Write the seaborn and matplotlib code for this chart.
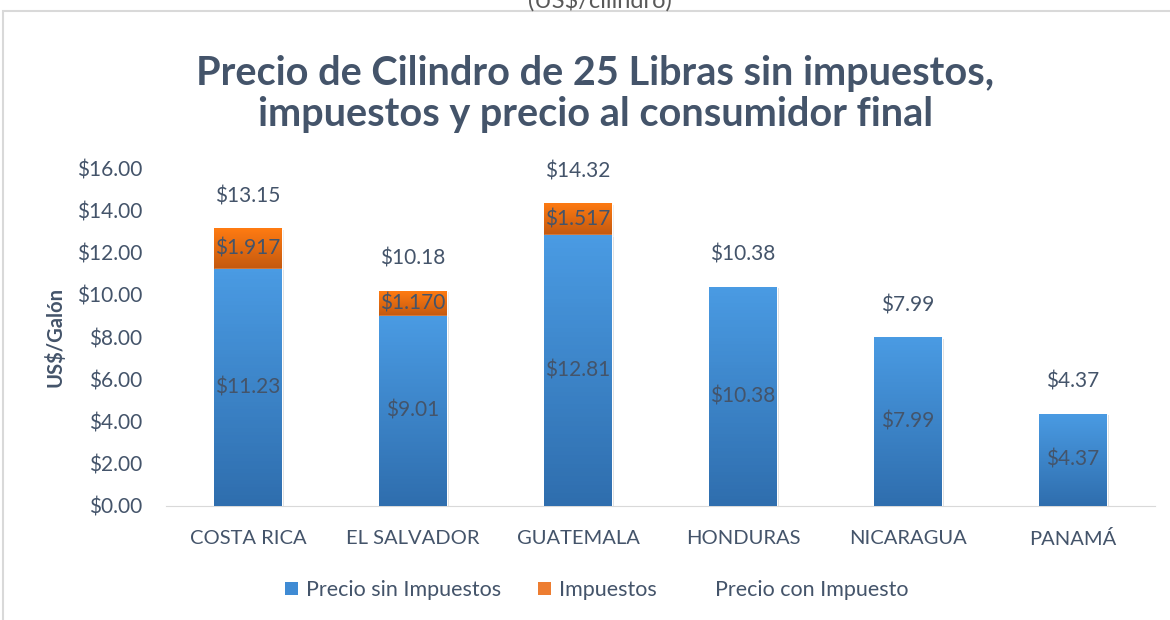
import numpy as np
import pandas as pd
import seaborn as sns
import matplotlib.pyplot as plt
from matplotlib.colors import to_rgb
from matplotlib.patches import Patch, Rectangle
from matplotlib.lines import Line2D
import matplotlib.patheffects as pe

# datos
paises = ['COSTA RICA', 'EL SALVADOR', 'GUATEMALA', 'HONDURAS', 'NICARAGUA', 'PANAMÁ']
precio_sin_imp = [11.23, 9.01, 12.81, 10.38, 7.99, 4.37]
impuestos = [1.917, 1.170, 1.517, 0.0, 0.0, 0.0]
precio_con_imp = [13.15, 10.18, 14.32, 10.38, 7.99, 4.37]

TXT = '#44546A'
sns.set_style('white')
plt.rcParams['font.family'] = ['Lato', 'DejaVu Sans']

df = pd.DataFrame({'Pais': paises, 'Sin': precio_sin_imp, 'Imp': impuestos,
                   'Con': precio_con_imp})
df['Tope'] = df['Sin'] + df['Imp']

fig = plt.figure(figsize=(11.7, 6.2), dpi=100)
ax = fig.add_axes([0.1415, 0.1839, 0.8461, 0.5451])

sombra = [pe.SimplePatchShadow(offset=(1.5, -1), shadow_rgbFace='#000000', alpha=0.08), pe.Normal()]

# barra naranja (total) y encima la azul (sin impuestos)
sns.barplot(data=df, x='Pais', y='Tope', color='#ED7D31', width=0.41, saturation=1,
            ax=ax, zorder=2)
n = len(paises)
sns.barplot(data=df, x='Pais', y='Sin', color='#3F8BD4', width=0.41, saturation=1,
            ax=ax, zorder=3)

grad_azul = ['#4A9BE3', '#2F6EAE']
grad_naranja = ['#FF7B12', '#C4590F']
for i, p in enumerate(ax.patches):
    cols = grad_naranja if i < n else grad_azul
    x0, y0 = p.get_x(), p.get_y()
    w, h = p.get_width(), p.get_height()
    if h <= 0:
        continue
    p.set_path_effects(sombra)
    c1, c2 = np.array(to_rgb(cols[0])), np.array(to_rgb(cols[1]))
    if i < n:
        # el degradado naranja cubre solo el tramo de impuestos
        y0 = precio_sin_imp[i]
        h = impuestos[i]
        if h <= 0:
            continue
    t = np.linspace(0, 1, 64)[:, None]
    img = (c1 * (1 - t) + c2 * t)[:, None, :]
    im = ax.imshow(img, extent=(x0, x0 + w, y0, y0 + h), aspect='auto',
                   zorder=p.get_zorder() + 0.1, origin='upper')
    im.set_clip_path(p)

# etiquetas
for i in range(n):
    ax.text(i, precio_sin_imp[i] / 2, f'${precio_sin_imp[i]:.2f}', ha='center', va='center',
            fontsize=15, color=TXT, zorder=10)
    if impuestos[i] > 0:
        ax.text(i, precio_sin_imp[i] + impuestos[i] / 2, f'${impuestos[i]:.3f}',
                ha='center', va='center', fontsize=15, color=TXT, zorder=10)
    ax.annotate(f'${precio_con_imp[i]:.2f}', (i, precio_con_imp[i]), xytext=(0, 32),
                textcoords='offset pixels', ha='center', va='center', fontsize=15,
                color=TXT, zorder=10)

ax.set_xlim(-0.5, n - 0.5)
ax.set_ylim(0, 16)
ax.set_yticks(np.arange(0, 16.1, 2))
ax.set_yticklabels([f'${v:.2f}' for v in np.arange(0, 16.1, 2)])
ax.tick_params(axis='both', length=0, labelsize=15, labelcolor=TXT)
ax.tick_params(axis='x', pad=17, labelsize=14.5)
ax.tick_params(axis='y', pad=17)
ax.set_xlabel('')
ax.set_ylabel('US$/Galón', fontsize=14.5, fontweight='bold', color=TXT, labelpad=8)
sns.despine(ax=ax, left=True, top=True, right=True)
ax.spines['bottom'].set_color('#D9D9D9')

fig.text(0.509, 1 - 94 / 620,
         'Precio de Cilindro de 25 Libras sin impuestos,\nimpuestos y precio al consumidor final',
         ha='center', va='center', fontsize=28.5, fontweight='bold', color=TXT, linespacing=1.12)

handles = [Patch(facecolor='#3F8BD4', edgecolor='none'),
           Patch(facecolor='#ED7D31', edgecolor='none'),
           Line2D([], [], color='none')]
fig.legend(handles, ['Precio sin Impuestos', 'Impuestos', 'Precio con Impuesto'],
           loc='center', bbox_to_anchor=(0.51, 0.048), ncol=3, frameon=False,
           fontsize=15.5, labelcolor=TXT, handlelength=0.6, handleheight=0.6,
           handletextpad=0.4, columnspacing=1.7)

fig.text(0.513, 1.0, '(US$/cilindro)', ha='center', va='center', fontsize=17, color='#595959')
fig.patches.append(Rectangle((3 / 1170, -0.1), 1.2, 1 - 11 / 620 + 0.1, transform=fig.transFigure,
                             fill=False, edgecolor='#D9D9D9', linewidth=1.5))

fig.savefig('out.png', dpi=100)
